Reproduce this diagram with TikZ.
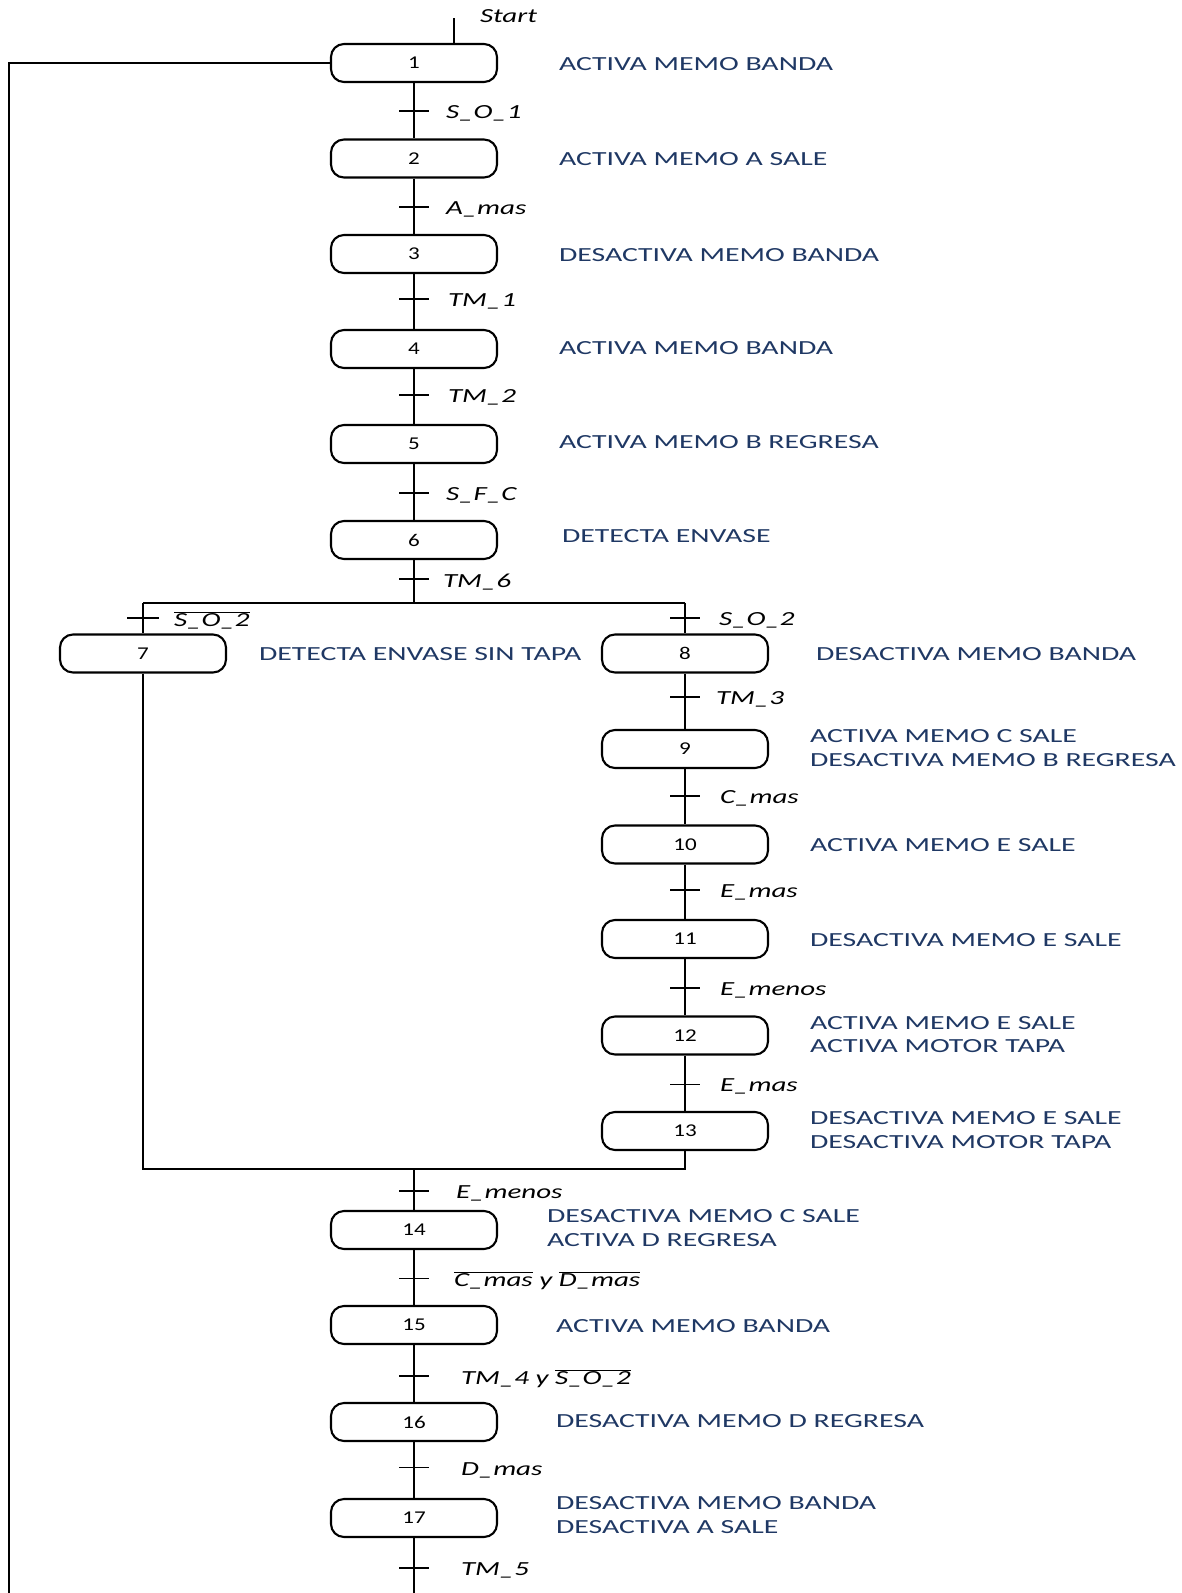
\documentclass[tikz,border=0pt]{standalone}
\usepackage{fontspec}
\setmainfont{Carlito}
\definecolor{actblue}{RGB}{31,56,100}
% letters in this chart are set wide
\newcommand\wide[1]{\scalebox{1.45}[1]{#1}}
\newcommand\widea[1]{\scalebox{1.49}[1]{#1}}
\newcommand\widen[1]{\scalebox{1.28}[1]{#1}}
\newcommand\ov[1]{$\overline{\mbox{#1}}$}
\newcommand\two[2]{\widea{\begin{tabular}{@{}l@{}}#1\\#2\end{tabular}}}
\begin{document}
\begin{tikzpicture}[x=1pt,y=-1pt,line width=2pt,
  stepbox/.style={draw,line width=2.1pt,rounded corners=13pt,minimum width=166pt,minimum height=38pt,inner sep=0pt,
    font=\fontsize{18}{20}\selectfont},
  act/.style={anchor=west,text=actblue,inner sep=0pt,yshift=-1pt,font=\fontsize{20}{23.5}\selectfont},
  cond/.style={anchor=west,inner sep=0pt,yshift=-2.5pt,font=\fontsize{20}{24}\selectfont\itshape},
  tbar/.style={line width=1.7pt}]
\useasboundingbox (0,0) rectangle (1182,1593);

% main column steps
\node[stepbox] (s1)  at (414,63)   {\widen{1}};
\node[stepbox] (s2)  at (414,158.5){\widen{2}};
\node[stepbox] (s3)  at (414,254)  {\widen{3}};
\node[stepbox] (s4)  at (414,349)  {\widen{4}};
\node[stepbox] (s5)  at (414,444)  {\widen{5}};
\node[stepbox] (s6)  at (414,540)  {\widen{6}};
% alternative branches
\node[stepbox] (s7)  at (143,653.5){\widen{7}};
\node[stepbox] (s8)  at (685,653.5){\widen{8}};
\node[stepbox] (s9)  at (685,749)  {\widen{9}};
\node[stepbox] (s10) at (685,844.5){\widen{10}};
\node[stepbox] (s11) at (685,939)  {\widen{11}};
\node[stepbox] (s12) at (685,1035.5){\widen{12}};
\node[stepbox] (s13) at (685,1131) {\widen{13}};
% after the convergence
\node[stepbox] (s14) at (414,1230) {\widen{14}};
\node[stepbox] (s15) at (414,1325) {\widen{15}};
\node[stepbox] (s16) at (414,1422) {\widen{16}};
\node[stepbox] (s17) at (414,1518) {\widen{17}};

% actions
\node[act] (a1)  at (558,63)    {\widea{ACTIVA MEMO BANDA}};
\node[act] (a2)  at (558,158.5) {\widea{ACTIVA MEMO A SALE}};
\node[act] (a3)  at (558,254)   {\widea{DESACTIVA MEMO BANDA}};
\node[act] (a4)  at (558,347)   {\widea{ACTIVA MEMO BANDA}};
\node[act] (a5)  at (558,441)   {\widea{ACTIVA MEMO B REGRESA}};
\node[act] (a6)  at (561,535)   {\widea{DETECTA ENVASE}};
\node[act] (a7)  at (258,653.5) {\widea{DETECTA ENVASE SIN TAPA}};
\node[act] (a8)  at (815,653.5) {\widea{DESACTIVA MEMO BANDA}};
\node[act] (a9)  at (809,749)   {\two{ACTIVA MEMO C SALE}{DESACTIVA MEMO B REGRESA}};
\node[act] (a10) at (809,844.5) {\widea{ACTIVA MEMO E SALE}};
\node[act] (a11) at (809,939)   {\widea{DESACTIVA MEMO E SALE}};
\node[act] (a12) at (809,1035.5){\two{ACTIVA MEMO E SALE}{ACTIVA MOTOR TAPA}};
\node[act] (a13) at (809,1131)  {\two{DESACTIVA MEMO E SALE}{DESACTIVA MOTOR TAPA}};
\node[act] (a14) at (546,1229)  {\two{DESACTIVA MEMO C SALE}{ACTIVA D REGRESA}};
\node[act] (a15) at (555,1325)  {\widea{ACTIVA MEMO BANDA}};
\node[act] (a16) at (555,1420)  {\widea{DESACTIVA MEMO D REGRESA}};
\node[act] (a17) at (555,1516)  {\two{DESACTIVA MEMO BANDA}{DESACTIVA A SALE}};

% initial link
\coordinate (startTop) at (454,18);
\node[cond] (start) at (479,14) {\wide{Start}};
\draw (startTop) -- (startTop |- s1.north);

% main sequence links
\draw (s1) -- (s2);
\draw (s2) -- (s3);
\draw (s3) -- (s4);
\draw (s4) -- (s5);
\draw (s5) -- (s6);

% divergence of OR
\coordinate (divL) at (143,602.6);
\coordinate (divM) at (414,602.6);
\coordinate (divR) at (685,602.6);
\draw (s6.south) -- (divM);
\draw (divL) -- (divR);
\draw (divL) -- (s7.north);
\draw (divR) -- (s8.north);

% right branch links
\draw (s8) -- (s9);
\draw (s9) -- (s10);
\draw (s10) -- (s11);
\draw (s11) -- (s12);
\draw (s12) -- (s13);

% convergence of OR
\coordinate (joinL) at (143,1168.7);
\coordinate (joinM) at (414,1168.7);
\coordinate (joinR) at (685,1168.7);
\draw (s7.south) -- (joinL) -- (joinR) -- (s13.south);
\draw (joinM) -- (s14.north);

\draw (s14) -- (s15);
\draw (s15) -- (s16);
\draw (s16) -- (s17);
\coordinate (endB) at (414,1593);
\draw (s17.south) -- (endB);

% return line on the left
\coordinate (fbT) at (9,63);
\coordinate (fbB) at (9,1593);
\draw (s1.west) -- (fbT) -- (fbB);

% transitions: bars and receptivities
\foreach \n/\x/\y/\lx/\txt in {
  t1/414/110.8/445/S\_O\_1,
  t2/414/207.3/445/A\_mas,
  t3/414/298.8/447/TM\_1,
  t4/414/395.3/447/TM\_2,
  t5/414/492.9/445/S\_F\_C,
  t6/414/579.3/442/TM\_6,
  t8/685/617.9/718/S\_O\_2,
  t9/685/697.2/715/TM\_3,
  t10/685/795.8/719/C\_mas,
  t11/685/890.3/719/E\_mas,
  t12/685/987.8/719/E\_menos,
  t13/685/1084.4/719/E\_mas,
  t14/414/1191.1/455/E\_menos,
  t17/414/1467.5/460/D\_mas,
  t18/414/1568.2/460/TM\_5}{
  \coordinate (\n) at (\x,\y);
  \draw[tbar] (\n) ++(-15,0) -- ++(30,0);
  \node[cond] (\n l) at (\lx,\y) {\wide{\txt}};
}
\coordinate (t7) at (143,617.9);
\draw[tbar] (t7) ++(-16,0) -- ++(32,0);
\node[cond] (t7l) at (173,617.9) {\wide{\ov{S\_O\_2}}};
\coordinate (t15) at (414,1278.5);
\draw[tbar] (t15) ++(-15,0) -- ++(30,0);
\node[cond] (t15l) at (453,1278.5) {\wide{\ov{C\_mas} y \ov{D\_mas}}};
\coordinate (t16) at (414,1376.1);
\draw[tbar] (t16) ++(-15,0) -- ++(30,0);
\node[cond] (t16l) at (460,1376.1) {\wide{TM\_4 y \ov{S\_O\_2}}};
\end{tikzpicture}
\end{document}
